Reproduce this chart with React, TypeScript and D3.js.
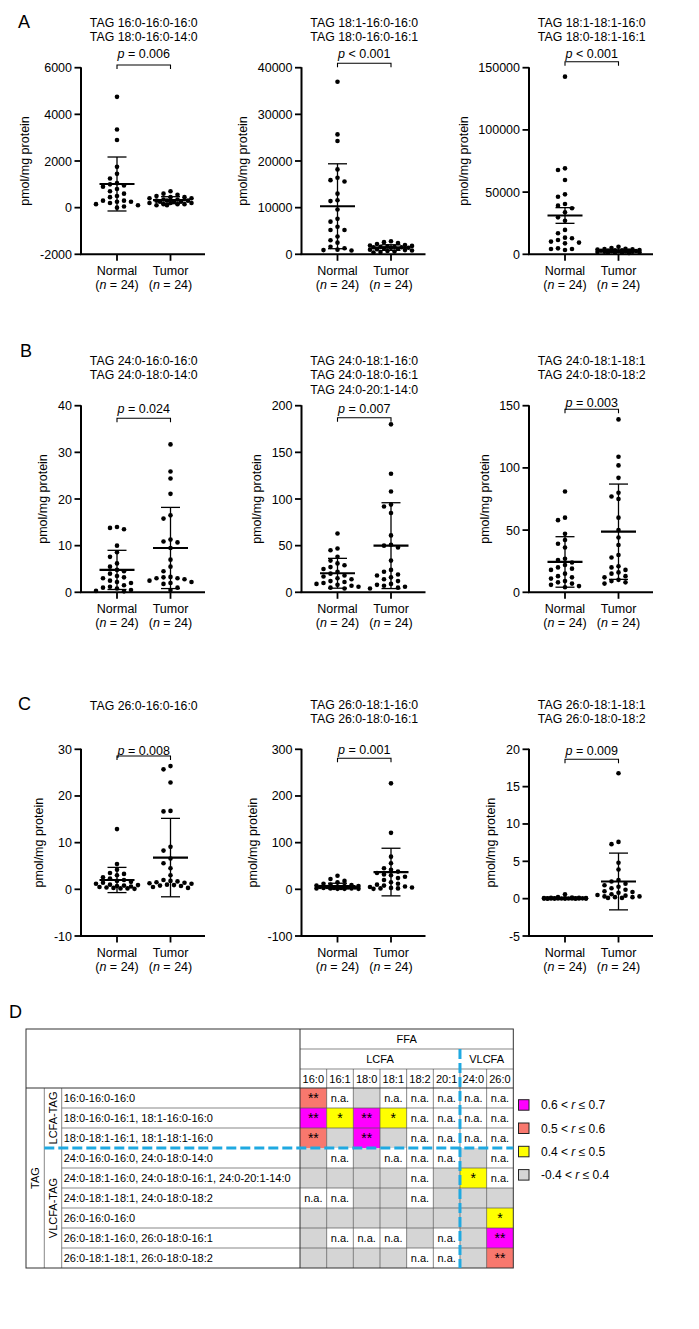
import React from 'react';
import * as d3 from 'd3';

const FONT = '"Liberation Sans", Arial, Helvetica, sans-serif';
const groups = ['Normal', 'Tumor'];
const groupN = ['24', '24'];

// ---------- Panel A ----------
const a1Title = ['TAG 16:0-16:0-16:0', 'TAG 18:0-16:0-14:0'];
const a1Ticks = [6000, 4000, 2000, 0, -2000];
const a1Normal = [4750, 3350, 2900, 1750, 1450, 1250, 1050, 1000, 950, 900, 800, 700, 600, 500, 450, 300, 300, 250, 250, 200, 150, 100, 50, 0];
const a1Tumor = [700, 600, 550, 500, 450, 450, 400, 400, 350, 350, 300, 300, 300, 250, 250, 250, 200, 200, 200, 150, 150, 150, 100, 100];
const a1Mean = [1014, 320];
const a1Err = [1157, 150];
const a1P = '= 0.006';

const a2Title = ['TAG 18:1-16:0-16:0', 'TAG 18:0-16:0-16:1'];
const a2Ticks = [40000, 30000, 20000, 10000, 0];
const a2Normal = [37000, 25700, 24300, 18200, 16400, 15900, 15600, 13000, 11600, 11400, 9600, 7600, 7000, 5900, 5200, 5200, 3800, 3000, 2500, 1600, 1300, 1000, 900, 800];
const a2Tumor = [2800, 2600, 2400, 2200, 2000, 1900, 1800, 1700, 1600, 1600, 1500, 1500, 1400, 1400, 1300, 1200, 1100, 1000, 900, 800, 700, 600, 500, 400];
const a2Mean = [10300, 1450];
const a2Err = [9100, 600];
const a2P = '< 0.001';

const a3Title = ['TAG 18:1-18:1-16:0', 'TAG 18:0-18:1-16:1'];
const a3Ticks = [150000, 100000, 50000, 0];
const a3Normal = [142800, 69100, 67800, 59700, 48200, 46300, 40400, 39100, 37000, 33800, 29700, 27000, 19600, 16900, 13400, 12900, 11500, 10200, 9400, 8800, 4800, 4300, 3500, 4300];
const a3Tumor = [6000, 5000, 4500, 4200, 4000, 3800, 3500, 3300, 3200, 3000, 3000, 2800, 2700, 2500, 2400, 2200, 2000, 2000, 1800, 1600, 1500, 1300, 1200, 1000];
const a3Mean = [31200, 2800];
const a3Err = [6300, 500];
const a3P = '< 0.001';

// ---------- Panel B ----------
const b1Title = ['TAG 24:0-16:0-16:0', 'TAG 24:0-18:0-14:0'];
const b1Ticks = [40, 30, 20, 10, 0];
const b1Normal = [14.0, 13.8, 13.5, 10.0, 8.6, 7.6, 6.2, 5.5, 4.8, 4.5, 4.0, 3.5, 3.2, 3.0, 2.5, 2.2, 2.0, 1.5, 1.2, 1.0, 0.8, 0.5, 0.3, 0.2];
const b1Tumor = [31.7, 25.9, 24.4, 21.1, 16.5, 15.8, 11.3, 10.9, 10.7, 9.5, 7.0, 5.5, 4.5, 3.3, 3.2, 3.0, 3.0, 2.8, 2.5, 2.2, 2.0, 1.8, 1.0, 0.5];
const b1Mean = [4.8, 9.5];
const b1Err = [4.2, 8.7];
const b1P = '= 0.024';

const b2Title = ['TAG 24:0-18:1-16:0', 'TAG 24:0-18:0-16:1', 'TAG 24:0-20:1-14:0'];
const b2Ticks = [200, 150, 100, 50, 0];
const b2Normal = [63, 47, 45, 38, 34, 31, 29, 27, 25, 22, 20, 18, 17, 15, 14, 12, 11, 10, 9, 8, 7, 6, 5, 4];
const b2Tumor = [180, 127, 108, 94, 92, 85, 61, 51, 50, 48, 34, 24, 22, 19, 18, 16, 14, 12, 9, 8, 7, 6, 5, 4];
const b2Mean = [20.4, 50];
const b2Err = [16, 46];
const b2P = '= 0.007';

const b3Title = ['TAG 24:0-18:1-18:1', 'TAG 24:0-18:0-18:2'];
const b3Ticks = [150, 100, 50, 0];
const b3Normal = [81, 60, 58, 47, 42, 39, 36, 27, 26, 24, 22, 20, 19, 18, 15, 13, 12, 11, 9, 8, 7, 6, 5, 4];
const b3Tumor = [139, 109, 102, 92, 80, 77, 75, 60, 50, 44, 38, 30, 28, 21, 20, 18, 16, 15, 13, 12, 10, 9, 8, 7];
const b3Mean = [24.4, 48.7];
const b3Err = [20.3, 38.3];
const b3P = '= 0.003';

// ---------- Panel C ----------
const c1Title = ['TAG 26:0-16:0-16:0'];
const c1Ticks = [30, 20, 10, 0, -10];
const c1Normal = [12.9, 5.4, 4.2, 3.5, 3.3, 3.0, 2.6, 2.3, 2.0, 1.8, 1.6, 1.4, 1.2, 1.0, 0.9, 0.8, 0.7, 0.6, 0.5, 0.4, 0.3, 0.2, 0.2, 0.1];
const c1Tumor = [26.4, 25.7, 22.9, 16.8, 16.7, 9.1, 8.3, 6.6, 5.6, 4.5, 3.0, 2.0, 1.8, 1.7, 1.5, 1.4, 1.3, 1.2, 1.0, 0.9, 0.8, 0.7, 0.5, 0.3];
const c1Mean = [2.0, 6.8];
const c1Err = [2.7, 8.4];
const c1P = '= 0.008';

const c2Title = ['TAG 26:0-18:1-16:0', 'TAG 26:0-18:0-16:1'];
const c2Ticks = [300, 200, 100, 0, -100];
const c2Normal = [29, 22, 18, 15, 12, 10, 9, 8, 7, 7, 6, 5, 5, 4, 4, 3, 3, 3, 2, 2, 2, 1, 1, 1];
const c2Tumor = [227, 121, 70, 56, 45, 42, 38, 35, 32, 30, 27, 24, 20, 15, 12, 10, 8, 6, 5, 4, 3, 2, 2, 1];
const c2Mean = [7, 37];
const c2Err = [6, 51];
const c2P = '= 0.001';

const c3Title = ['TAG 26:0-18:1-18:1', 'TAG 26:0-18:0-18:2'];
const c3Ticks = [20, 15, 10, 5, 0, -5];
const c3Normal = [0.6, 0.2, 0.15, 0.1, 0.1, 0.08, 0.07, 0.06, 0.05, 0.05, 0.04, 0.04, 0.03, 0.03, 0.03, 0.02, 0.02, 0.02, 0.01, 0.01, 0.01, 0.01, 0, 0];
const c3Tumor = [16.8, 7.6, 7.3, 4.8, 3.9, 2.5, 2.3, 2.0, 1.8, 1.6, 1.4, 1.2, 1.0, 0.9, 0.8, 0.6, 0.5, 0.4, 0.3, 0.3, 0.2, 0.2, 0.1, 0.1];
const c3Mean = [0.05, 2.3];
const c3Err = [0.1, 3.8];
const c3P = '= 0.009';

// ---------- Panel D (table) ----------
const ffaCols = ['16:0', '16:1', '18:0', '18:1', '18:2', '20:1', '24:0', '26:0'];
const ffaGroups = [{ label: 'LCFA', n: 6 }, { label: 'VLCFA', n: 2 }];
const tagRows = [
  '16:0-16:0-16:0',
  '18:0-16:0-16:1, 18:1-16:0-16:0',
  '18:0-18:1-16:1, 18:1-18:1-16:0',
  '24:0-16:0-16:0, 24:0-18:0-14:0',
  '24:0-18:1-16:0, 24:0-18:0-16:1, 24:0-20:1-14:0',
  '24:0-18:1-18:1, 24:0-18:0-18:2',
  '26:0-16:0-16:0',
  '26:0-18:1-16:0, 26:0-18:0-16:1',
  '26:0-18:1-18:1, 26:0-18:0-18:2',
];
const tagGroups = [{ label: 'LCFA-TAG', n: 3 }, { label: 'VLCFA-TAG', n: 6 }];
// m: 0.6<r≤0.7, s: 0.5<r≤0.6, y: 0.4<r≤0.5, g: -0.4<r≤0.4, n: n.a.
const cellLevels = [
  ['s', 'n', 'g', 'n', 'n', 'n', 'n', 'n'],
  ['m', 'y', 'm', 'y', 'n', 'n', 'n', 'n'],
  ['s', 'g', 'm', 'g', 'n', 'n', 'n', 'n'],
  ['g', 'n', 'g', 'n', 'n', 'n', 'g', 'n'],
  ['g', 'g', 'g', 'g', 'n', 'g', 'y', 'n'],
  ['n', 'n', 'g', 'g', 'n', 'g', 'g', 'g'],
  ['g', 'g', 'g', 'g', 'g', 'g', 'g', 'y'],
  ['g', 'n', 'n', 'n', 'g', 'n', 'g', 'm'],
  ['g', 'g', 'g', 'g', 'n', 'n', 'g', 's'],
];
const cellStars = [
  ['**', '', '', '', '', '', '', ''],
  ['**', '*', '**', '*', '', '', '', ''],
  ['**', '', '**', '', '', '', '', ''],
  ['', '', '', '', '', '', '', ''],
  ['', '', '', '', '', '', '*', ''],
  ['', '', '', '', '', '', '', ''],
  ['', '', '', '', '', '', '', '*'],
  ['', '', '', '', '', '', '', '**'],
  ['', '', '', '', '', '', '', '**'],
];
const levelKeys = ['m', 's', 'y', 'g'];
const levelColors = ['#FF00FF', '#F8786E', '#FFFF00', '#D5D5D5'];
const levelLow = ['0.6', '0.5', '0.4', '-0.4'];
const levelHigh = ['0.7', '0.6', '0.5', '0.4'];

// ---------- layout (positions only) ----------
const colAxisX = [81, 301.5, 529];
const rowTop = [67.7, 405.7, 749.3];
const rowBottom = [254.3, 592.3, 936];

const charts = [
  { title: a1Title, ticks: a1Ticks, normal: a1Normal, tumor: a1Tumor, mean: a1Mean, err: a1Err, p: a1P, col: 0, row: 0, titleY: 27.1, pCy: 53.5, bY: 65 },
  { title: a2Title, ticks: a2Ticks, normal: a2Normal, tumor: a2Tumor, mean: a2Mean, err: a2Err, p: a2P, col: 1, row: 0, titleY: 27.1, pCy: 53.3, bY: 63.3 },
  { title: a3Title, ticks: a3Ticks, normal: a3Normal, tumor: a3Tumor, mean: a3Mean, err: a3Err, p: a3P, col: 2, row: 0, titleY: 27.1, pCy: 53.3, bY: 61.7 },
  { title: b1Title, ticks: b1Ticks, normal: b1Normal, tumor: b1Tumor, mean: b1Mean, err: b1Err, p: b1P, col: 0, row: 1, titleY: 365.1, pCy: 408.3, bY: 418.3 },
  { title: b2Title, ticks: b2Ticks, normal: b2Normal, tumor: b2Tumor, mean: b2Mean, err: b2Err, p: b2P, col: 1, row: 1, titleY: 365.1, pCy: 409, bY: 417.7 },
  { title: b3Title, ticks: b3Ticks, normal: b3Normal, tumor: b3Tumor, mean: b3Mean, err: b3Err, p: b3P, col: 2, row: 1, titleY: 365.1, pCy: 402.3, bY: 409.3 },
  { title: c1Title, ticks: c1Ticks, normal: c1Normal, tumor: c1Tumor, mean: c1Mean, err: c1Err, p: c1P, col: 0, row: 2, titleY: 710.4, pCy: 750.5, bY: 756 },
  { title: c2Title, ticks: c2Ticks, normal: c2Normal, tumor: c2Tumor, mean: c2Mean, err: c2Err, p: c2P, col: 1, row: 2, titleY: 708.7, pCy: 750, bY: 758.3 },
  { title: c3Title, ticks: c3Ticks, normal: c3Normal, tumor: c3Tumor, mean: c3Mean, err: c3Err, p: c3P, col: 2, row: 2, titleY: 708.7, pCy: 750.7, bY: 759.3 },
];

const panelLetters = [
  { t: 'A', x: 18, y: 28 },
  { t: 'B', x: 20, y: 357 },
  { t: 'C', x: 18, y: 710 },
  { t: 'D', x: 9, y: 1018 },
];

function textWidth(s: string, fs: number) {
  let w = 0;
  for (const ch of s) w += ch === '-' ? 0.333 : 0.556;
  return w * fs;
}

function swarm(values: number[], y: (v: number) => number, cx: number) {
  const step = 7, minD = 5.6, maxK = 3;
  const pts = values.map(v => ({ py: y(v) })).sort((a, b) => a.py - b.py);
  const placed: { x: number; y: number }[] = [];
  const cands: number[] = [0];
  for (let k = 1; k <= maxK; k++) cands.push(-k * step, k * step);
  const fallback: number[] = [0];
  for (let k = 1; k <= 2 * maxK; k++) fallback.push(-k * step / 2, k * step / 2);
  for (const p of pts) {
    let chosen: number | null = null;
    for (const c of cands) {
      if (placed.every(q => Math.hypot(q.x - c, q.y - p.py) >= minD)) { chosen = c; break; }
    }
    if (chosen === null) {
      let best = 0, bestD = -1;
      for (const c of fallback) {
        const d = Math.min(...placed.map(q => Math.hypot(q.x - c, q.y - p.py)));
        if (d > bestD + 1e-9) { bestD = d; best = c; }
      }
      chosen = best;
    }
    placed.push({ x: chosen, y: p.py });
  }
  return placed.map(q => ({ x: cx + q.x, y: q.y }));
}

function Chart({ c }: { c: any }) {
  const axisX = colAxisX[c.col];
  const top = rowTop[c.row];
  const bottom = rowBottom[c.row];
  const ticks: number[] = c.ticks;
  const y = d3.scaleLinear().domain([ticks[ticks.length - 1], ticks[0]]).range([bottom, top]);
  const x = d3.scalePoint<string>().domain(groups).range([axisX + 36, axisX + 89.5]);
  const xEnd = axisX + 124;
  const mid = ((x('Normal') as number) + (x('Tumor') as number)) / 2;
  const fs = 12.5;
  const maxTickW = d3.max(ticks, t => textWidth(String(t), fs)) as number;
  const yLabelX = axisX - 9 - maxTickW - 15;
  const series = [c.normal, c.tumor];
  const xN = x('Normal') as number;
  const xT = x('Tumor') as number;
  return (
    <g>
      {c.title.map((t: string, i: number) => (
        <text key={'t' + i} x={mid} y={c.titleY + i * 14.2} textAnchor="middle" fontSize={12.3}>{t}</text>
      ))}
      <text x={mid} y={c.pCy + 4.4} textAnchor="middle" fontSize={12.5}>
        <tspan fontStyle="italic">p</tspan><tspan>{' ' + c.p}</tspan>
      </text>
      <path d={`M${xN},${c.bY + 4}V${c.bY}H${xT}V${c.bY + 4}`} fill="none" stroke="#000" strokeWidth={1.1} />
      {series.map((vals: number[], gi: number) =>
        swarm(vals, y, x(groups[gi]) as number).map((p, i) => (
          <circle key={gi + '-' + i} cx={p.x} cy={p.y} r={2.3} fill="#000" />
        ))
      )}
      {groups.map((g, gi) => {
        const cx = x(g) as number;
        const m = c.mean[gi];
        const e = c.err[gi];
        return (
          <g key={'m' + gi} stroke="#000">
            <line x1={cx} x2={cx} y1={y(m + e)} y2={y(m - e)} strokeWidth={1.3} />
            <line x1={cx - 9.5} x2={cx + 9.5} y1={y(m + e)} y2={y(m + e)} strokeWidth={1.3} />
            <line x1={cx - 9.5} x2={cx + 9.5} y1={y(m - e)} y2={y(m - e)} strokeWidth={1.3} />
            <line x1={cx - 17.5} x2={cx + 17.5} y1={y(m)} y2={y(m)} strokeWidth={2.2} />
          </g>
        );
      })}
      <line x1={axisX} x2={axisX} y1={top - 0.5} y2={bottom} stroke="#000" strokeWidth={2} />
      <line x1={axisX - 1} x2={xEnd} y1={bottom} y2={bottom} stroke="#000" strokeWidth={2} />
      {ticks.map(t => (
        <g key={'yt' + t}>
          <line x1={axisX - 6.5} x2={axisX} y1={y(t)} y2={y(t)} stroke="#000" strokeWidth={1.8} />
          <text x={axisX - 9} y={y(t) + 4.5} textAnchor="end" fontSize={fs}>{t}</text>
        </g>
      ))}
      {groups.map((g, gi) => (
        <g key={'xt' + g}>
          <line x1={x(g)} x2={x(g)} y1={bottom} y2={bottom + 6.5} stroke="#000" strokeWidth={1.8} />
          <text x={x(g)} y={bottom + 20.5} textAnchor="middle" fontSize={fs}>{g}</text>
          <text x={x(g)} y={bottom + 35} textAnchor="middle" fontSize={fs}>
            (<tspan fontStyle="italic">n</tspan> = {groupN[gi]})
          </text>
        </g>
      ))}
      <text transform={`translate(${yLabelX},${(top + bottom) / 2}) rotate(-90)`} textAnchor="middle" fontSize={fs} dy="0.35em">pmol/mg protein</text>
    </g>
  );
}

function Table() {
  const L = 26, R = 513.3, T0 = 1029, H1 = 1049, H2 = 1069, H3 = 1088, B = 1268;
  const C1 = 44.3, C2 = 61.7, DX = 300;
  const colX = d3.scaleBand<string>().domain(ffaCols).range([DX, R]);
  const rowY = d3.scaleBand<number>().domain(d3.range(tagRows.length)).range([H3, B]);
  const cw = colX.bandwidth();
  const rh = rowY.bandwidth();
  const grid = '#555';
  const blue = '#1FA9E1';
  let acc = 0;
  const groupSpans = ffaGroups.map(g => { const s = acc; acc += g.n; return { ...g, s, e: acc }; });
  let racc = 0;
  const rowSpans = tagGroups.map(g => { const s = racc; racc += g.n; return { ...g, s, e: racc }; });
  const fs = 11;
  return (
    <g>
      {cellLevels.map((row, ri) =>
        row.map((lv, ci) => {
          const k = levelKeys.indexOf(lv);
          if (k < 0) return null;
          return <rect key={ri + '-' + ci} x={colX(ffaCols[ci])} y={rowY(ri)} width={cw} height={rh} fill={levelColors[k]} />;
        })
      )}
      <g stroke={grid} strokeWidth={0.7}>
        {d3.range(1, tagRows.length).map(i => i === 3 ? null : (
          <line key={'rl' + i} x1={C2} x2={R} y1={rowY(i)} y2={rowY(i)} />
        ))}
        {d3.range(1, ffaCols.length).map(j => (
          <line key={'cl' + j} x1={DX + j * cw} x2={DX + j * cw} y1={H2} y2={B} />
        ))}
        <line x1={DX} x2={R} y1={H1} y2={H1} />
        <line x1={DX} x2={R} y1={H2} y2={H2} />
        <line x1={C1} x2={C1} y1={H3} y2={B} />
        <line x1={C2} x2={C2} y1={H3} y2={B} />
      </g>
      <g stroke="#333" strokeWidth={1}>
        <rect x={L} y={T0} width={R - L} height={B - T0} fill="none" />
        <line x1={L} x2={R} y1={H3} y2={H3} />
        <line x1={DX} x2={DX} y1={T0} y2={B} />
      </g>
      <text x={(DX + R) / 2} y={(T0 + H1) / 2 + 4} textAnchor="middle" fontSize={fs}>FFA</text>
      {groupSpans.map(g => (
        <text key={g.label} x={DX + ((g.s + g.e) / 2) * cw} y={(H1 + H2) / 2 + 4} textAnchor="middle" fontSize={fs}>{g.label}</text>
      ))}
      {ffaCols.map(c => (
        <text key={c} x={(colX(c) as number) + cw / 2} y={(H2 + H3) / 2 + 4} textAnchor="middle" fontSize={fs}>{c}</text>
      ))}
      {tagRows.map((r, i) => (
        <text key={r} x={C2 + 2} y={(rowY(i) as number) + rh / 2 + 4} fontSize={fs}>{r}</text>
      ))}
      <text transform={`translate(${(L + C1) / 2},${(H3 + B) / 2}) rotate(-90)`} textAnchor="middle" dy="0.35em" fontSize={fs}>TAG</text>
      {rowSpans.map(g => (
        <text key={g.label} transform={`translate(${(C1 + C2) / 2},${H3 + ((g.s + g.e) / 2) * rh}) rotate(-90)`} textAnchor="middle" dy="0.35em" fontSize={fs}>{g.label}</text>
      ))}
      {cellLevels.map((row, ri) =>
        row.map((lv, ci) => {
          const cx = (colX(ffaCols[ci]) as number) + cw / 2;
          const cy = (rowY(ri) as number) + rh / 2;
          if (lv === 'n') return <text key={'n' + ri + ci} x={cx} y={cy + 4} textAnchor="middle" fontSize={fs}>n.a.</text>;
          const st = cellStars[ri][ci];
          if (!st) return null;
          return <text key={'s' + ri + ci} x={cx} y={cy + 4.7} textAnchor="middle" fontSize={14}>{st}</text>;
        })
      )}
      <line x1={C1} x2={R} y1={rowY(3)} y2={rowY(3)} stroke={blue} strokeWidth={3} strokeDasharray="10 4" />
      <line x1={DX + 6 * cw} x2={DX + 6 * cw} y1={H1} y2={B} stroke={blue} strokeWidth={3} strokeDasharray="10 4" />
      {levelColors.map((col, i) => {
        const cy = 1105 + i * 23.3;
        return (
          <g key={'lg' + i}>
            <rect x={518.5} y={cy - 5.3} width={10.5} height={10.5} fill={col} stroke="#222" strokeWidth={1} />
            <text x={541} y={cy + 4.3} fontSize={12}>
              {levelLow[i] + ' < '}<tspan fontStyle="italic">r</tspan>{' ≤ ' + levelHigh[i]}
            </text>
          </g>
        );
      })}
    </g>
  );
}

export default function App() {
  return (
    <svg width={699} height={1329} style={{ position: 'absolute', left: 0, top: 0, background: '#fff' }} fontFamily={FONT}>
      <rect x={0} y={0} width={699} height={1329} fill="#fff" />
      {panelLetters.map(p => (
        <text key={p.t} x={p.x} y={p.y} fontSize={18}>{p.t}</text>
      ))}
      {charts.map((c, i) => <Chart key={i} c={c} />)}
      <Table />
    </svg>
  );
}
